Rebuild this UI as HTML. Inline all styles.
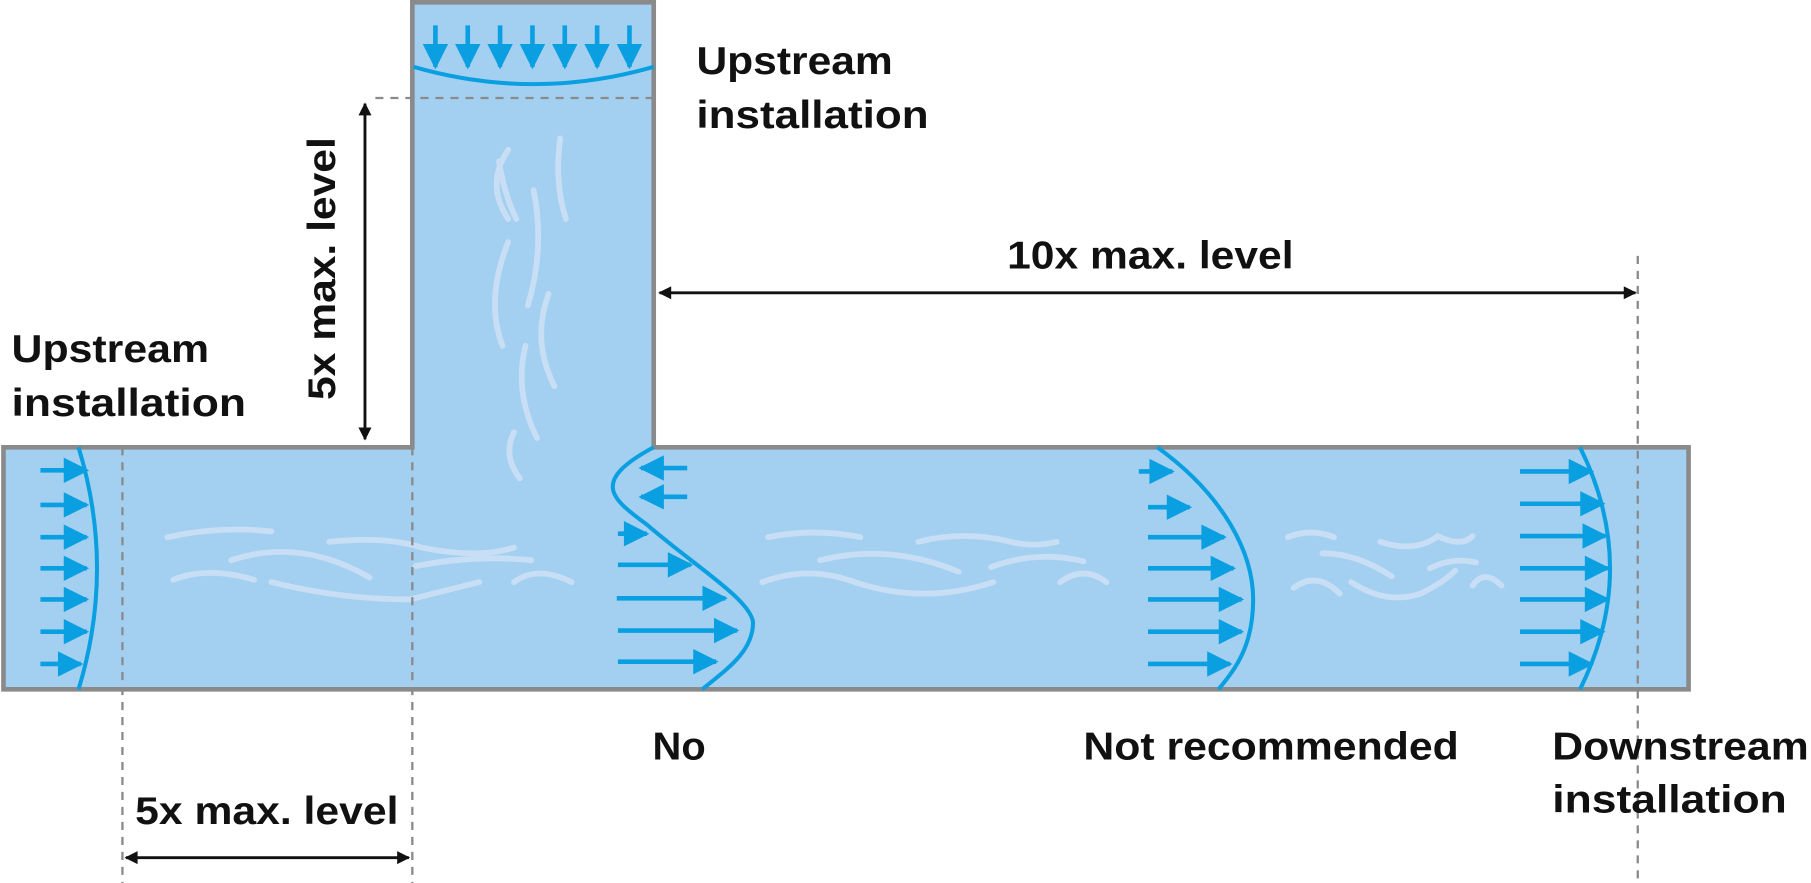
<!DOCTYPE html>
<html><head><meta charset="utf-8"><style>
html,body{margin:0;padding:0;background:#fff;width:1811px;height:883px;overflow:hidden}
svg{display:block}
text{font-family:"Liberation Sans",sans-serif;font-weight:bold;font-size:34px;fill:#111}
</style></head><body>
<svg width="1811" height="883" viewBox="0 0 1568 766" preserveAspectRatio="none">
<defs>
<marker id="b" viewBox="0 0 10 10" refX="9" refY="5" markerWidth="7.5" markerHeight="5.5" markerUnits="strokeWidth" orient="auto"><path d="M0,0L10,5L0,10z" fill="#0a9fe0"/></marker>
<marker id="k" viewBox="0 0 10 10" refX="9" refY="5" markerWidth="7" markerHeight="4.5" markerUnits="strokeWidth" orient="auto-start-reverse"><path d="M0,0L10,5L0,10z" fill="#111"/></marker>
</defs>
<path d="M3,388H357V2H566V388H1462V598H3Z" fill="#a3d0f0" stroke="#8a8a8a" stroke-width="4"/>
<g fill="none" stroke="#c8def5" stroke-width="5" stroke-linecap="round">
<path d="M145,466q45,-10 90,-5"/><path d="M200,486q60,-20 120,15"/><path d="M150,503q30,-12 70,0"/>
<path d="M235,505q60,15 120,15q40,-10 60,-15"/><path d="M285,470q50,-5 80,5q50,10 80,0"/><path d="M360,491q50,-10 100,-5"/>
<path d="M445,505q20,-15 50,0"/><path d="M665,466q40,-8 80,0"/><path d="M710,486q60,-15 120,10"/><path d="M795,470q40,-10 80,0q20,5 40,0"/>
<path d="M660,505q40,-15 80,0q60,20 120,0"/><path d="M858,492q40,-15 80,-5"/><path d="M918,505q20,-15 40,0"/>
<path d="M1115,466q20,-8 40,0"/><path d="M1145,480q30,0 60,20"/><path d="M1195,470q30,10 50,-5q20,10 30,0"/><path d="M1120,510q20,-15 40,5"/>
<path d="M1170,505q30,20 60,10q20,-10 30,-20"/><path d="M1275,508q10,-15 25,0"/><path d="M1238,493q20,-10 40,-5"/>
<path d="M440,130q-20,30 0,60"/><path d="M485,120q-5,40 5,70"/><path d="M462,165q10,50 -5,100"/><path d="M440,210q-20,50 -5,90"/>
<path d="M475,255q-15,40 5,80"/><path d="M455,300q-10,40 10,80"/><path d="M445,375q-10,20 5,40"/><path d="M432,140q5,30 15,50"/>
</g>
<g stroke="#8a8a8a" stroke-width="2" stroke-dasharray="7,6" fill="none">
<path d="M325,85H566"/><path d="M106,388V766"/><path d="M357,388V766"/><path d="M1418,222V766"/>
</g>
<g stroke="#111" stroke-width="2.5" fill="none">
<path d="M316,90V381" marker-start="url(#k)" marker-end="url(#k)"/>
<path d="M571,254H1416" marker-start="url(#k)" marker-end="url(#k)"/>
<path d="M109,744H354" marker-start="url(#k)" marker-end="url(#k)"/>
</g>
<g fill="none" stroke="#0a9fe0" stroke-width="3.5">
<path d="M358,58Q462,88 566,58"/>
<path d="M68,388Q100,493 68,598"/>
<path d="M566,388C510,418 530,433 560,455C600,490 650,520 652,540C652,565 630,580 608,598"/>
<path d="M1002,388C1060,430 1085,480 1085,520C1085,560 1070,580 1055,598"/>
<path d="M1368,388Q1420,493 1368,598"/>
</g>
<g stroke="#0a9fe0" stroke-width="4" fill="none" marker-end="url(#b)">
<path d="M377,22V58"/><path d="M405,22V58"/><path d="M433,22V58"/><path d="M461,22V58"/><path d="M489,22V58"/><path d="M517,22V58"/><path d="M545,22V58"/>
<path d="M35,408H75"/><path d="M35,438H75"/><path d="M35,466H75"/><path d="M35,493H75"/><path d="M35,520H75"/><path d="M35,548H75"/><path d="M35,576H70"/>
<path d="M595,406H555"/><path d="M595,431H555"/><path d="M535,463H560"/><path d="M535,490H598"/><path d="M534,519H628"/><path d="M535,547H638"/><path d="M535,574H620"/>
<path d="M986,409H1015"/><path d="M994,440H1030"/><path d="M994,466H1060"/><path d="M994,493H1068"/><path d="M994,520H1075"/><path d="M994,548H1075"/><path d="M994,576H1065"/>
<path d="M1316,409H1378"/><path d="M1316,437H1388"/><path d="M1316,465H1390"/><path d="M1316,493H1392"/><path d="M1316,520H1392"/><path d="M1316,548H1388"/><path d="M1316,576H1378"/>
</g>
<g lengthAdjust="spacingAndGlyphs">
<text x="603" y="64" textLength="170" lengthAdjust="spacingAndGlyphs">Upstream</text><text x="603" y="111" textLength="201" lengthAdjust="spacingAndGlyphs">installation</text>
<text x="10" y="314" textLength="171" lengthAdjust="spacingAndGlyphs">Upstream</text><text x="10" y="361" textLength="203" lengthAdjust="spacingAndGlyphs">installation</text>
<text x="872" y="233" textLength="248" lengthAdjust="spacingAndGlyphs">10x max. level</text>
<text x="117" y="715" textLength="228" lengthAdjust="spacingAndGlyphs">5x max. level</text>
<text transform="translate(290,347) rotate(-90)" textLength="228" lengthAdjust="spacingAndGlyphs">5x max. level</text>
<text x="565" y="659" textLength="46" lengthAdjust="spacingAndGlyphs">No</text>
<text x="938" y="659" textLength="325" lengthAdjust="spacingAndGlyphs">Not recommended</text>
<text x="1344" y="659" textLength="222" lengthAdjust="spacingAndGlyphs">Downstream</text><text x="1344" y="705" textLength="203" lengthAdjust="spacingAndGlyphs">installation</text>
</g>
</svg>
</body></html>
